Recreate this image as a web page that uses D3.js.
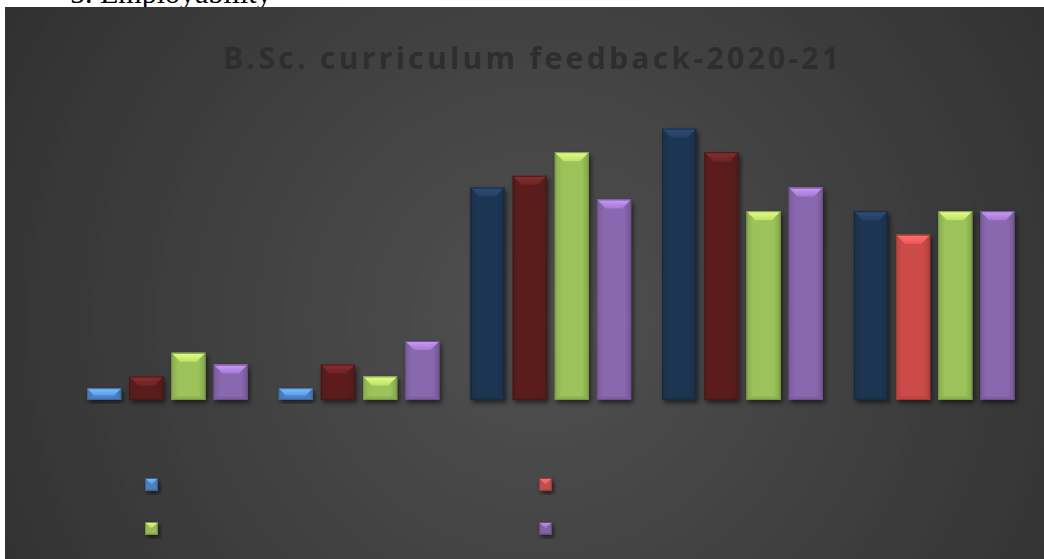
<!doctype html>
<html lang="en">
  <head>
    <meta charset="utf-8">
    <title>B.Sc. curriculum feedback-2020-21</title>
    <script src="https://d3js.org/d3.v7.min.js"></script>
    <style>
      body { margin: 0; background: #fff; }
      svg { display: block; }
    </style>
  </head>
  <body>
    <svg></svg>
    <script>
      // data (axis / legend labels are not visible in it)
      var categories = ["1", "2", "3", "4", "5"];
      var seriesNames = ["Series 1", "Series 2", "Series 3", "Series 4"];
      var series1 = [1, 1, 18, 23, 16];
      var series2 = [2, 3, 19, 21, 14];
      var series3 = [4, 2, 21, 16, 16];
      var series4 = [3, 5, 17, 18, 16];

      // legend colours, and per point colours as they appear in the chart
      var seriesColors = ["#4f81bd", "#c0504d", "#9bbb59", "#8064a2"];
      var pointColors = [
        ["#4f86c8", "#4f86c8", "#1f3552", "#1f3552", "#1f3552"],
        ["#5c1f1f", "#5c1f1f", "#5c1f1f", "#5c1f1f", "#cc4c49"],
        ["#9cc25a", "#9cc25a", "#9cc25a", "#9cc25a", "#9cc25a"],
        ["#8a68b0", "#8a68b0", "#8a68b0", "#8a68b0", "#8a68b0"]
      ];

      var allSeries = [series1, series2, series3, series4];
      var W = 1044, H = 559;

      var svg = d3.select("svg").attr("width", W).attr("height", H);
      var defs = svg.append("defs");

      // heading of the page, cut off by the chart
      svg.append("text")
        .attr("x", 70)
        .attr("y", 3)
        .attr("font-family", "Liberation Serif, serif")
        .attr("font-size", 30)
        .attr("fill", "#000")
        .text("5. Employability");

      // radial background with faint rings
      var grad = defs.append("radialGradient")
        .attr("id", "bg")
        .attr("gradientUnits", "userSpaceOnUse")
        .attr("cx", 540).attr("cy", 320).attr("r", 640);
      var bands = 10;
      for (var i = 0; i < bands; i++) {
        var a = 0x50 - i * 3.3, b = a - 2.4;
        grad.append("stop").attr("offset", i / bands)
          .attr("stop-color", d3.rgb(a, a, a));
        grad.append("stop").attr("offset", (i + 1) / bands - 0.001)
          .attr("stop-color", d3.rgb(b, b, b));
      }

      svg.append("rect")
        .attr("x", 5).attr("y", 7)
        .attr("width", W - 5).attr("height", H - 7)
        .attr("fill", "url(#bg)");

      // title
      svg.append("text")
        .attr("x", 531)
        .attr("y", 69)
        .attr("text-anchor", "middle")
        .attr("font-family", "Open Sans, sans-serif")
        .attr("font-weight", "bold")
        .attr("font-size", 30)
        .attr("textLength", 616)
        .attr("fill", "#2e2e2e")
        .text("B.Sc. curriculum feedback-2020-21");

      var shadow = defs.append("filter").attr("id", "shadow")
        .attr("x", "-20%").attr("y", "-20%").attr("width", "150%").attr("height", "150%");
      shadow.append("feDropShadow")
        .attr("dx", 2).attr("dy", 3).attr("stdDeviation", 2.5)
        .attr("flood-color", "#000").attr("flood-opacity", 0.55);

      var x0 = d3.scaleBand().domain(categories).range([71.5, 1030]);
      var x1 = d3.scaleBand().domain(d3.range(4))
        .range([15.5, x0.bandwidth() - 15.5]).paddingInner(0.19);
      var y = d3.scaleLinear().domain([0, 25]).range([400, 105]);

      // gradients per colour
      var gradCache = {};
      function grads(color) {
        var key = color.replace("#", "");
        if (gradCache[key]) return gradCache[key];
        var c = d3.color(color);
        var body = defs.append("linearGradient").attr("id", "body" + key)
          .attr("x1", 0).attr("x2", 1).attr("y1", 0).attr("y2", 0);
        body.append("stop").attr("offset", 0).attr("stop-color", c.darker(0.35));
        body.append("stop").attr("offset", 0.2).attr("stop-color", c);
        body.append("stop").attr("offset", 0.8).attr("stop-color", c);
        body.append("stop").attr("offset", 1).attr("stop-color", c.darker(0.5));
        var top = defs.append("linearGradient").attr("id", "top" + key)
          .attr("x1", 0).attr("x2", 0).attr("y1", 0).attr("y2", 1);
        top.append("stop").attr("offset", 0).attr("stop-color", c.brighter(1.1));
        top.append("stop").attr("offset", 1).attr("stop-color", c.brighter(0.45));
        gradCache[key] = { body: "url(#body" + key + ")", top: "url(#top" + key + ")" };
        return gradCache[key];
      }

      // bevelled box: light top face, shaded sides
      function bevelBox(g, x, yTop, w, h, color, bevel) {
        var c = d3.color(color);
        var gr = grads(color);
        var b = Math.min(bevel, w / 2, h * 0.6);
        g.append("rect")
          .attr("x", x).attr("y", yTop).attr("width", w).attr("height", h)
          .attr("fill", gr.body);
        // bottom lip
        g.append("polygon")
          .attr("points", [[x, yTop + h], [x + b * 0.4, yTop + h - b * 0.35], [x + w - b * 0.4, yTop + h - b * 0.35], [x + w, yTop + h]].join(" "))
          .attr("fill", c.darker(0.3));
        // top face
        g.append("polygon")
          .attr("points", [[x, yTop], [x + w, yTop], [x + w - b, yTop + b], [x + b, yTop + b]].join(" "))
          .attr("fill", gr.top);
        g.append("rect")
          .attr("x", x + 0.5).attr("y", yTop + 0.5).attr("width", w - 1).attr("height", h - 1)
          .attr("fill", "none")
          .attr("stroke", c.darker(0.7))
          .attr("stroke-width", 1);
      }

      var groups = svg.selectAll(".grp").data(categories).enter()
        .append("g")
        .attr("class", "grp")
        .attr("transform", function(d) { return "translate(" + x0(d) + ",0)"; });

      groups.each(function(cat, ci) {
        var g = d3.select(this);
        allSeries.forEach(function(vals, si) {
          var v = vals[ci];
          var bar = g.append("g").attr("filter", "url(#shadow)");
          bevelBox(bar, x1(si), y(v), x1.bandwidth(), y(0) - y(v), pointColors[si][ci], 9);
        });
      });

      // legend (labels are not legible in the picture)
      var legendPos = [[145, 478], [539, 478], [145, 522], [539, 522]];
      var legend = svg.selectAll(".leg").data(seriesNames).enter()
        .append("g")
        .attr("class", "leg")
        .attr("filter", "url(#shadow)");
      legend.each(function(name, i) {
        bevelBox(d3.select(this), legendPos[i][0], legendPos[i][1], 13, 13, seriesColors[i], 6);
      });
    </script>
  </body>
</html>
